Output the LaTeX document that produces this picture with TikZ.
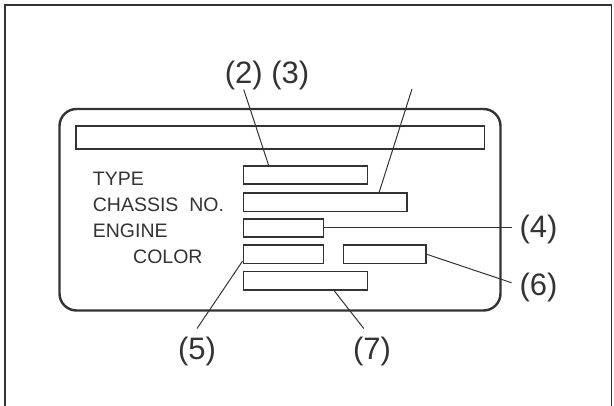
\documentclass[tikz,border=0pt]{standalone}
\usepackage{fontspec}
\setmainfont{Liberation Sans}
\usetikzlibrary{calc}
\definecolor{ink}{HTML}{333333}
\begin{document}
\begin{tikzpicture}[x=1pt,y=-1pt,
  plate/.style={draw=ink,line width=2.4pt,rounded corners=17pt},
  field/.style={draw=ink,line width=1.6pt,inner sep=0pt},
  lead/.style={draw=ink,line width=1pt},
  tag/.style={font=\fontsize{19.5}{20}\selectfont,text=ink,anchor=base west,inner sep=0pt},
  num/.style={font=\fontsize{31}{31}\selectfont,text=ink,inner sep=0pt,outer sep=8pt}]
\useasboundingbox (0,0) rectangle (614,406);
\draw[ink,line width=1.4pt] (5,406) -- (5,5) -- (611.5,5) -- (611.5,406);
\draw[plate] (59.5,109) rectangle (500.5,310.5);
\node[field,minimum width=408.5pt,minimum height=23pt] (bar) at (280.3,137.7) {};

\node[tag] (typetag) at (92.7,186) {TYPE};
\node[tag] (chassistag) at (92.7,212) {CHASSIS\ \ NO.};
\node[tag] (enginetag) at (92.7,237.5) {ENGINE};
\node[tag] (colortag) at (133,263.5) {COLOR};

\node[field,minimum width=124pt,minimum height=18.5pt] (typefield) at (305.3,175) {};
\node[field,minimum width=163.4pt,minimum height=18.4pt] (chassisfield) at (325,202.5) {};
\node[field,minimum width=80pt,minimum height=17.5pt] (enginefield) at (283.3,228) {};
\node[field,minimum width=80pt,minimum height=18.3pt] (colorfield) at (283.3,254.2) {};
\node[field,minimum width=82.4pt,minimum height=18.3pt] (codefield) at (384.5,254.2) {};
\node[field,minimum width=124pt,minimum height=18.3pt] (plainfield) at (305.3,280.8) {};

\node[num,outer sep=0pt] (l2) at (243.7,75) {(2)};
\node[num,outer sep=0pt] (l3) at (290.3,75) {(3)};
\node[num] (l4) at (538.5,229) {(4)};
\node[num] (l6) at (538.5,287.5) {(6)};
\node[num] (l5) at (197,351) {(5)};
\node[num] (l7) at (372,351) {(7)};
\coordinate (c3) at (412,89);

\draw[lead] (l2.south) -- ($(typefield.north west)+(26,0)$);
\draw[lead] (c3) -- ($(chassisfield.north east)+(-28.4,0)$);
\draw[lead] (enginefield.east) -- (enginefield.east -| l4.west);
\draw[lead] (codefield.east) -- (l6.170);
\draw[lead] ($(colorfield.south west)+(0,-3)$) -- (l5.north);
\draw[lead] ($(plainfield.south west)+(91.7,0)$) -- (l7.110);
\end{tikzpicture}
\end{document}
